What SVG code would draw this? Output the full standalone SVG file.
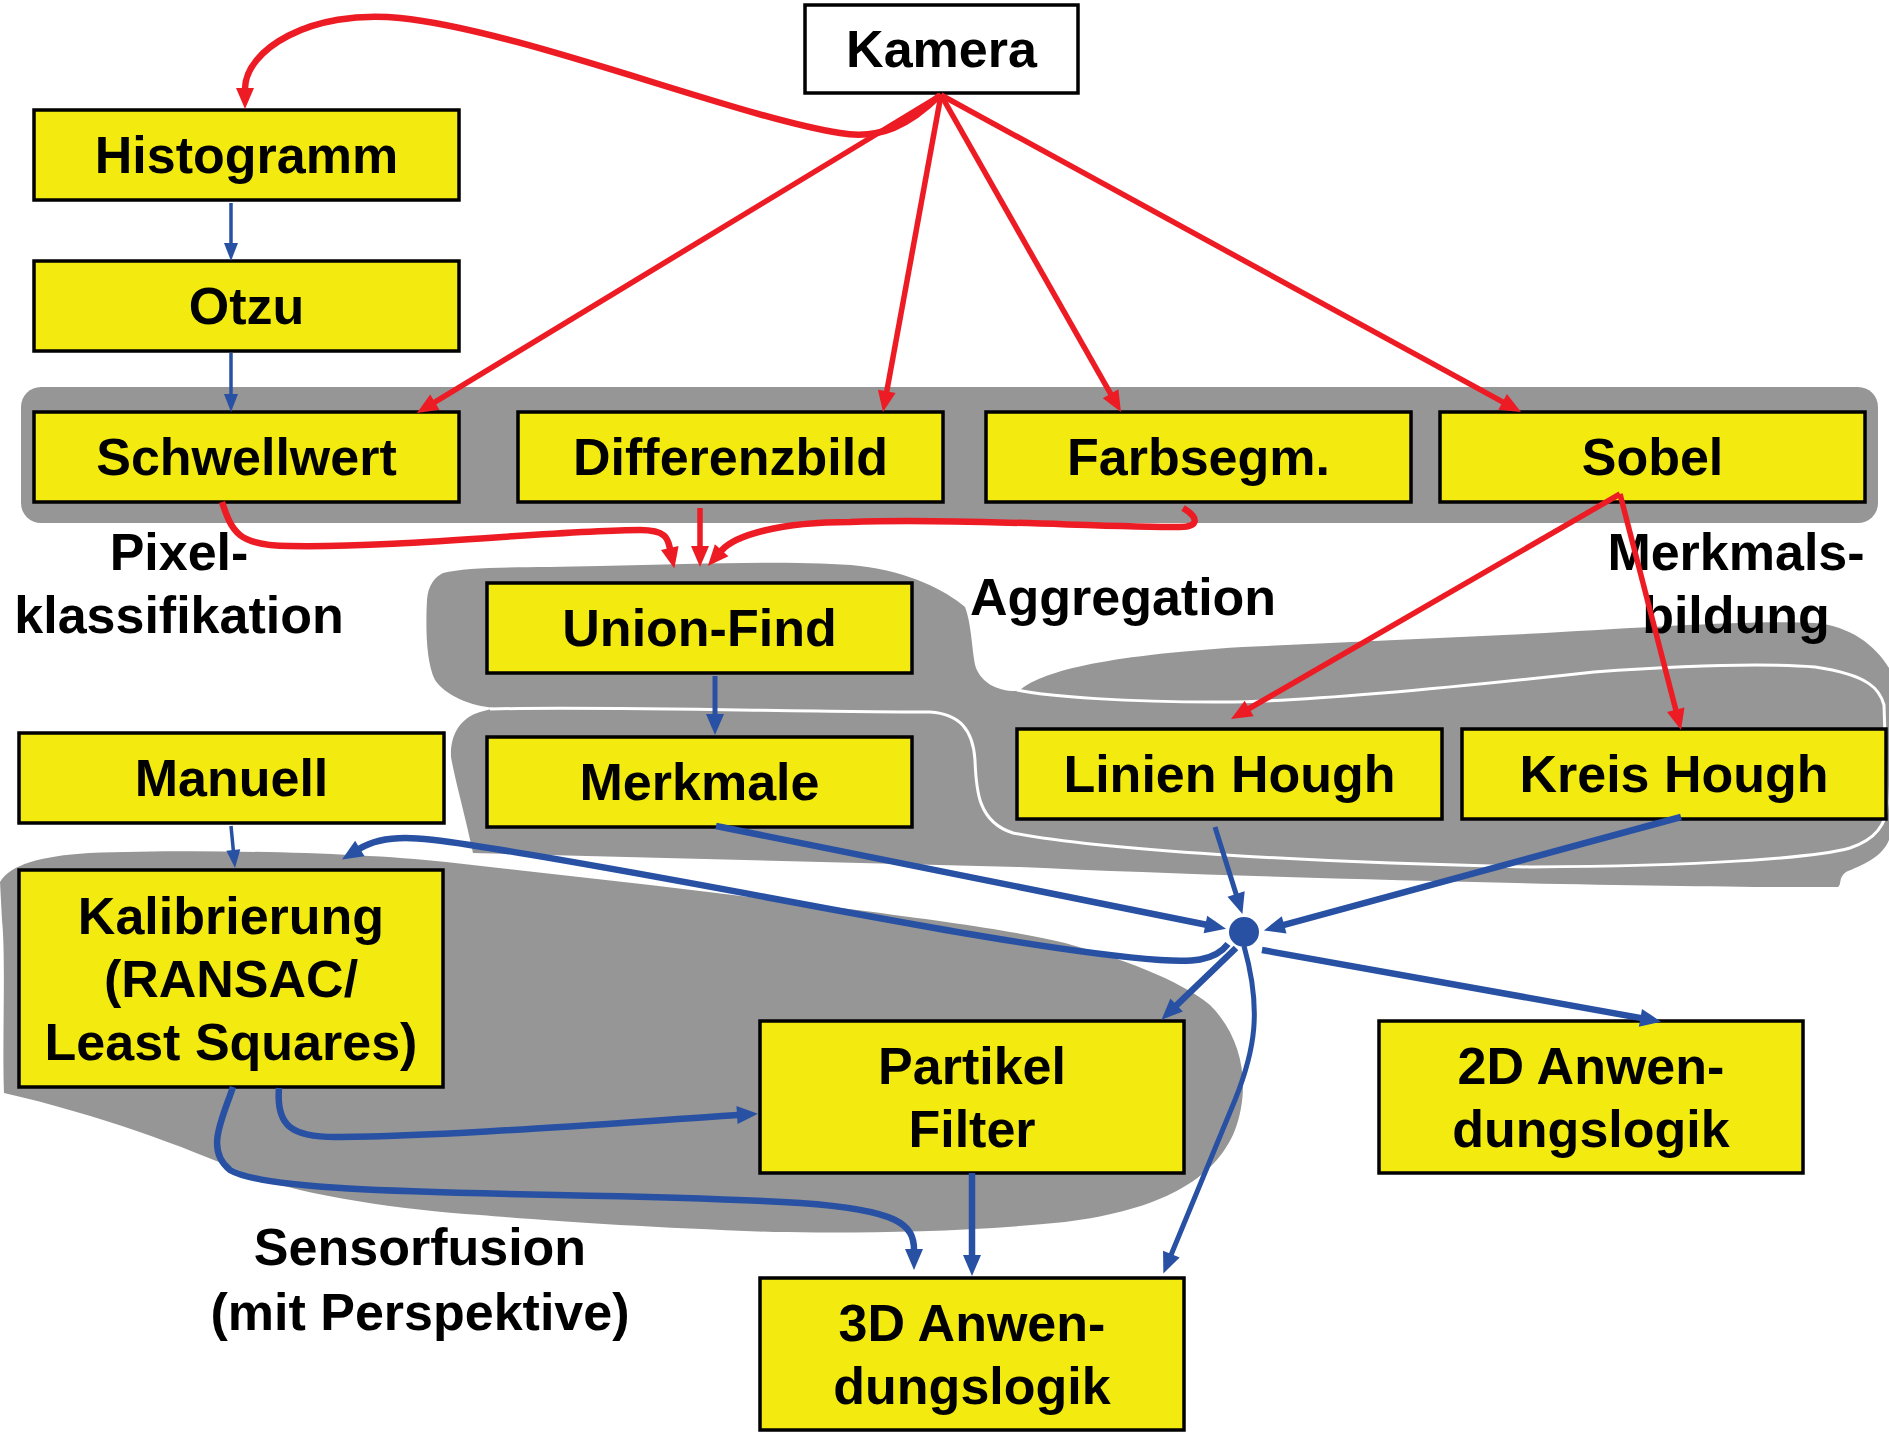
<svg xmlns="http://www.w3.org/2000/svg" width="1889" height="1440" viewBox="0 0 1889 1440">
<style>
.n{fill:#F3EB0F;stroke:#000;stroke-width:3.5}
.k{fill:#fff;stroke:#000;stroke-width:3.5}
text{font-family:"Liberation Sans",Arial,sans-serif;font-weight:bold;font-size:52px;text-anchor:middle;fill:#000}
.g{fill:#969696}
.r{fill:none;stroke:#ED1C24;stroke-width:5.5}
.r6{fill:none;stroke:#ED1C24;stroke-width:6.5}
.b{fill:none;stroke:#2851A3;stroke-width:6.5}
.b5{fill:none;stroke:#2851A3;stroke-width:5}
.bt{fill:none;stroke:#2851A3;stroke-width:3.5}
</style>
<defs>
<marker id="ar" markerUnits="userSpaceOnUse" markerWidth="21" markerHeight="18" refX="1" refY="9" orient="auto" overflow="visible"><path d="M0,0 L21,9 L0,18 Z" fill="#ED1C24"/></marker>
<marker id="ab" markerUnits="userSpaceOnUse" markerWidth="21" markerHeight="18" refX="1" refY="9" orient="auto" overflow="visible"><path d="M0,0 L21,9 L0,18 Z" fill="#2851A3"/></marker>
<marker id="as" markerUnits="userSpaceOnUse" markerWidth="18" markerHeight="14" refX="1" refY="7" orient="auto" overflow="visible"><path d="M0,0 L18,7 L0,14 Z" fill="#2851A3"/></marker>
</defs>
<rect width="1889" height="1440" fill="#fff"/>

<g id="backgrounds">
<rect class="g" x="21" y="387" width="1857" height="136" rx="20"/>
<path class="g" d="M 443,573 C 470,566 520,568 600,566 C 700,564 800,560 860,566 C 910,572 945,590 965,607 C 972,625 972,655 976,668 C 982,683 998,692 1019,691 C 1040,672 1100,656 1243,647 L 1545,633 C 1650,627 1760,620 1815,623 C 1850,626 1875,645 1889,668 L 1889,840 C 1882,858 1860,866 1846,872 C 1838,878 1842,884 1838,887 C 1700,888 1300,880 1020,867 L 473,853 C 465,815 455,780 451,757 C 450,735 460,718 480,712 L 495,708 C 470,706 445,695 435,680 C 425,660 426,620 427,600 C 428,585 435,577 443,573 Z"/>
<path d="M 490,709 C 600,706 800,712 930,712 C 960,714 973,730 975,760 C 976,790 978,822 1013,833 C 1100,850 1300,862 1531,867 C 1700,866 1815,858 1850,848 C 1880,838 1888,820 1887,800 L 1884,705 C 1880,690 1870,675 1815,667 C 1750,662 1650,668 1594,672 C 1450,688 1300,703 1215,702 C 1130,702 1050,697 1017,690" fill="none" stroke="#fff" stroke-width="3"/>
<path class="g" d="M 0,882 C 10,865 40,856 89,853 C 200,849 350,852 446,862 L 650,885 L 857,910 C 950,922 1020,932 1065,943 C 1120,958 1180,980 1210,1005 C 1245,1040 1250,1090 1235,1130 C 1215,1180 1160,1210 1065,1222 C 960,1233 850,1233 774,1232 C 650,1228 536,1220 480,1215 C 400,1210 300,1195 250,1175 C 180,1145 100,1115 4,1093 C 2,1040 6,960 2,920 Z"/>
</g>

<g id="labels">
<text x="179" y="570">Pixel-</text>
<text x="179" y="633">klassifikation</text>
<text x="1123" y="615">Aggregation</text>
<text x="1736" y="570">Merkmals-</text>
<text x="1736" y="633">bildung</text>
<text x="420" y="1265">Sensorfusion</text>
<text x="420" y="1330">(mit Perspektive)</text>
</g>

<g id="kamera"><rect class="k" x="805" y="5" width="273" height="88"/><text x="941.5" y="67">Kamera</text></g>
<g id="histogramm"><rect class="n" x="34" y="110" width="425" height="90"/><text x="246.5" y="173">Histogramm</text></g>
<g id="otzu"><rect class="n" x="34" y="261" width="425" height="90"/><text x="246.5" y="324">Otzu</text></g>
<g id="schwellwert"><rect class="n" x="34" y="412" width="425" height="90"/><text x="246.5" y="475">Schwellwert</text></g>
<g id="differenzbild"><rect class="n" x="518" y="412" width="425" height="90"/><text x="730.5" y="475">Differenzbild</text></g>
<g id="farbsegm"><rect class="n" x="986" y="412" width="425" height="90"/><text x="1198.5" y="475">Farbsegm.</text></g>
<g id="sobel"><rect class="n" x="1440" y="412" width="425" height="90"/><text x="1652.5" y="475">Sobel</text></g>
<g id="union-find"><rect class="n" x="487" y="583" width="425" height="90"/><text x="699.5" y="646">Union-Find</text></g>
<g id="merkmale"><rect class="n" x="487" y="737" width="425" height="90"/><text x="699.5" y="800">Merkmale</text></g>
<g id="manuell"><rect class="n" x="19" y="733" width="425" height="90"/><text x="231.5" y="796">Manuell</text></g>
<g id="linien-hough"><rect class="n" x="1017" y="729" width="425" height="90"/><text x="1229.5" y="792">Linien Hough</text></g>
<g id="kreis-hough"><rect class="n" x="1462" y="729" width="424" height="90"/><text x="1674" y="792">Kreis Hough</text></g>
<g id="kalibrierung"><rect class="n" x="19" y="870" width="424" height="217"/><text x="231" y="934">Kalibrierung</text><text x="231" y="997">(RANSAC/</text><text x="231" y="1060">Least Squares)</text></g>
<g id="partikel-filter"><rect class="n" x="760" y="1021" width="424" height="152"/><text x="972" y="1084">Partikel</text><text x="972" y="1147">Filter</text></g>
<g id="anwendung-2d"><rect class="n" x="1379" y="1021" width="424" height="152"/><text x="1591" y="1084">2D Anwen-</text><text x="1591" y="1147">dungslogik</text></g>
<g id="anwendung-3d"><rect class="n" x="760" y="1278" width="424" height="152"/><text x="972" y="1341">3D Anwen-</text><text x="972" y="1404">dungslogik</text></g>

<g id="connectors">
<path class="r6" d="M 940,95 C 910,125 880,140 840,133 C 740,118 520,30 400,18 C 310,9 245,50 245,89" marker-end="url(#ar)"/>
<path class="r" d="M 941,95 L 434,402.6" marker-end="url(#ar)"/>
<path class="r" d="M 941,95 L 886.6,392.3" marker-end="url(#ar)"/>
<path class="r" d="M 941,95 L 1111.1,394.6" marker-end="url(#ar)"/>
<path class="r" d="M 941,95 L 1503.5,402.4" marker-end="url(#ar)"/>
<path class="r" d="M 1620,494 L 1248.3,709" marker-end="url(#ar)"/>
<path class="r" d="M 1620,494 L 1676,710.6" marker-end="url(#ar)"/>
<path class="r6" d="M 222,502 C 232,532 238,546 290,546 C 400,548 560,530 640,530 C 668,530 668,540 670,549" marker-end="url(#ar)"/>
<path class="r" d="M 700,508 L 700,547" marker-end="url(#ar)"/>
<path class="r6" d="M 1183,508 C 1200,518 1198,527 1180,527 C 1100,527 950,518 850,522 C 780,522 735,535 721,551" marker-end="url(#ar)"/>

<path class="bt" d="M 231,203 L 231,244" marker-end="url(#as)"/>
<path class="bt" d="M 231,353 L 231,395" marker-end="url(#as)"/>
<path class="b5" d="M 715,676 L 715,715" marker-end="url(#ab)"/>
<path class="bt" d="M 231,826 L 233.4,851" marker-end="url(#as)"/>
<path class="b" d="M 716,826 L 1206.4,924.7" marker-end="url(#ab)"/>
<path class="b5" d="M 1215,827 L 1236.4,895" marker-end="url(#ab)"/>
<path class="b" d="M 1681,817 L 1283.2,925.2" marker-end="url(#ab)"/>
<path class="b" d="M 1228,944 C 1214,962 1190,962 1160,960 C 1000,948 700,880 470,845 C 420,837 385,833 359,849" marker-end="url(#ab)"/>
<path class="b" d="M 1236,948 L 1175.9,1005.8" marker-end="url(#ab)"/>
<path class="b5" d="M 1244,946 C 1262,1010 1255,1050 1235,1100 L 1171,1255" marker-end="url(#ab)"/>
<path class="b" d="M 1262,950 L 1641.4,1018.1" marker-end="url(#ab)"/>
<path class="b" d="M 279,1088 C 276,1125 290,1138 340,1137 C 450,1136 600,1124 738,1115" marker-end="url(#ab)"/>
<path class="b" d="M 233,1087 C 222,1120 205,1150 230,1170 C 280,1200 600,1190 800,1203 C 900,1210 914,1225 914,1250" marker-end="url(#ab)"/>
<path class="b" d="M 972,1173 L 972,1256" marker-end="url(#ab)"/>
<circle cx="1244" cy="932" r="15" fill="#2851A3"/>
</g>
</svg>
